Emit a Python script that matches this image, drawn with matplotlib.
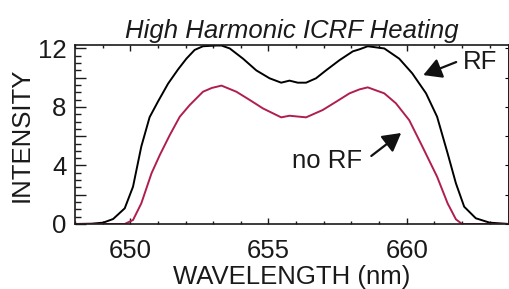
"""ICRF heating spectrum: intensity vs wavelength, with and without RF."""

import matplotlib

matplotlib.use("Agg")
import matplotlib.pyplot as plt
from matplotlib.ticker import MultipleLocator, FixedLocator

plt.rcParams["font.family"] = ["Liberation Sans", "DejaVu Sans"]

# RF on (black)
rf_wl = [648.0, 648.6, 649.02, 649.38, 649.8, 650.1, 650.4, 650.7, 651.0,
         651.37, 651.73, 652.03, 652.33, 652.63, 653.1, 653.3, 653.6, 654.08,
         654.56, 655.04, 655.46, 655.76, 656.06, 656.36, 656.72, 657.08,
         657.57, 658.05, 658.29, 658.59, 659.19, 659.73, 660.2, 660.7,
         661.1, 661.48, 661.78, 662.08, 662.5, 663.0, 663.7]
rf_int = [0.0, 0.02, 0.09, 0.34, 1.07, 2.55, 5.3, 7.3, 8.36,
          9.6, 10.57, 11.3, 11.9, 12.15, 12.2, 12.2, 12.0, 11.3,
          10.5, 9.96, 9.66, 9.8, 9.66, 9.66, 9.96, 10.5,
          11.2, 11.8, 11.94, 12.15, 12.0, 11.3, 10.3, 8.93,
          7.33, 4.83, 2.78, 1.18, 0.39, 0.09, 0.0]

# no RF (crimson)
norf_wl = [648.0, 649.8, 650.1, 650.4, 650.77, 651.07, 651.43, 651.79,
           652.15, 652.63, 652.95, 653.3, 653.84, 654.32, 654.8, 655.46,
           655.76, 656.36, 656.96, 657.45, 657.93, 658.29, 658.59, 659.19,
           659.61, 660.09, 660.57, 661.1, 661.48, 661.78, 662.0, 663.7]
norf_int = [0.0, 0.0, 0.27, 1.41, 3.47, 4.72, 6.08, 7.33,
            8.13, 9.04, 9.3, 9.46, 9.04, 8.48, 7.9, 7.29,
            7.4, 7.29, 7.79, 8.36, 8.93, 9.2, 9.34, 8.93,
            8.25, 7.1, 5.28, 3.23, 1.41, 0.32, 0.0, 0.0]

x_ticks = [650, 655, 660]
y_ticks = [0, 2, 4, 6, 8, 10, 12]
y_labels = ["0", "", "4", "", "8", "", "12"]

ink = "#1a1a1a"
fig = plt.figure(figsize=(5.1, 2.89), dpi=100)
ax = fig.add_axes([0.147, 0.225, 0.851, 0.62])

ax.plot(rf_wl, rf_int, color="black", lw=1.4)
ax.plot(norf_wl, norf_int, color="#b01e50", lw=1.4)

ax.set_xlim(648.0, 663.7)
ax.set_ylim(0, 12.25)

ax.xaxis.set_major_locator(FixedLocator(x_ticks))
ax.xaxis.set_minor_locator(MultipleLocator(1))
ax.yaxis.set_major_locator(FixedLocator(y_ticks))
ax.set_yticklabels(y_labels)
ax.yaxis.set_minor_locator(MultipleLocator(0.5))

fs = 18.5
ax.tick_params(axis="x", which="both", direction="in", top=True,
               labelsize=fs, pad=11, width=1.0, colors=ink)
ax.tick_params(axis="x", which="major", length=4)
ax.tick_params(axis="x", which="minor", length=2)
ax.tick_params(axis="y", which="both", direction="in", right=False,
               labelsize=fs, pad=6, width=1.0, colors=ink)
ax.tick_params(axis="y", which="major", length=8)
ax.tick_params(axis="y", which="minor", length=4.5)

sec = ax.secondary_yaxis("right")
sec.yaxis.set_major_locator(MultipleLocator(2))
sec.tick_params(direction="in", length=3, labelright=False)

for s in list(ax.spines.values()) + list(sec.spines.values()):
    s.set_linewidth(1.2)
    s.set_color(ink)

ax.set_xlabel("WAVELENGTH (nm)", fontsize=fs, labelpad=1, color=ink)
ax.set_ylabel("INTENSITY", fontsize=fs, labelpad=3, color=ink)
ax.set_title("High Harmonic ICRF Heating", fontsize=fs, style="italic",
             pad=5, color=ink)

arrow = dict(arrowstyle="-|>,head_length=0.5,head_width=0.28", color="#111111",
             lw=1.6, mutation_scale=22, shrinkA=0, shrinkB=0)
ax.annotate("", xy=(660.6, 10.18), xytext=(661.79, 11.07), arrowprops=arrow)
ax.text(662.66, 11.07, "RF", fontsize=fs, ha="center", va="center",
        color=ink)
ax.annotate("", xy=(659.8, 6.22), xytext=(658.72, 4.65), arrowprops=arrow)
ax.text(657.12, 4.3, "no RF", fontsize=fs, ha="center", va="center",
        color=ink)

fig.savefig("out.png", dpi=100)
